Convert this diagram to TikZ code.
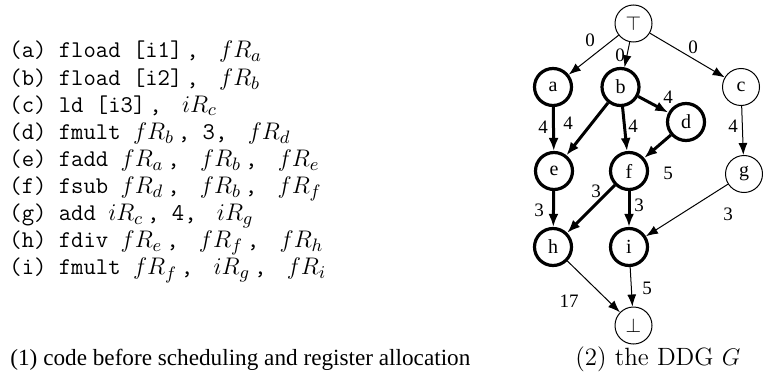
\documentclass[tikz,border=0pt]{standalone}
\usepackage{fontspec}
\newfontfamily\tms{Liberation Serif}
\usetikzlibrary{arrows.meta}
\newcommand\mo[1]{{\fontsize{12.5}{13}\selectfont$#1$}}
\newcommand\op[1]{\hspace{4pt}\mo{#1}}
\newcommand\cm{\kern2pt,}
\begin{document}
\begin{tikzpicture}[x=0.5pt,y=-0.5pt,
  nd/.style={circle,draw,line width=0.5pt,minimum size=18.5pt,inner sep=0pt,font=\tms\fontsize{10}{12}\selectfont},
  bnd/.style={nd,line width=1.6pt},
  ed/.style={-{Latex[length=6pt,width=4.5pt]},line width=0.5pt},
  bed/.style={-{Latex[length=6.5pt,width=5pt]},line width=1.5pt},
  lb/.style={font=\tms\fontsize{9.5}{11}\selectfont,inner sep=0pt},
  code/.style={anchor=base west,inner sep=0pt,font=\ttfamily\fontsize{12}{13}\selectfont}]
\useasboundingbox (0,0) rectangle (763,390);
% code
\node[code] (l1) at (9,58) {(a) fload [i1]\cm{} \op{fR_a}};
\node[code] (l2) at (9,85.1) {(b) fload [i2]\cm{} \op{fR_b}};
\node[code] (l3) at (9,112.2) {(c) ld [i3]\cm{} \op{iR_c}};
\node[code] (l4) at (9,139.3) {(d) fmult \mo{fR_b}\cm{} 3, \op{fR_d}};
\node[code] (l5) at (9,166.4) {(e) fadd \mo{fR_a}\cm{} \op{fR_b}\cm{} \op{fR_e}};
\node[code] (l6) at (9,193.5) {(f) fsub \mo{fR_d}\cm{} \op{fR_b}\cm{} \op{fR_f}};
\node[code] (l7) at (9,220.6) {(g) add \mo{iR_c}\cm{} 4, \op{iR_g}};
\node[code] (l8) at (9,247.7) {(h) fdiv \mo{fR_e}\cm{} \op{fR_f}\cm{} \op{fR_h}};
\node[code] (l9) at (9,274.8) {(i) fmult \mo{fR_f}\cm{} \op{iR_g}\cm{} \op{fR_i}};
% captions
\node[anchor=base west,inner sep=0pt,font=\tms\fontsize{11.6}{13}\selectfont] (cap1) at (10,365) {(1) code before scheduling and register allocation};
\node[anchor=base west,inner sep=0pt,font=\fontsize{12.5}{14}\selectfont] (cap2) at (575,365) {(2) the DDG $G$};
% nodes
\node[nd] (top) at (633.5,23.5) {$\top$};
\node[bnd] (a) at (553,87) {a};
\node[bnd] (b) at (620.5,87) {b};
\node[nd] (c) at (741,87) {c};
\node[bnd] (d) at (686,122) {d};
\node[bnd] (e) at (554,171) {e};
\node[bnd] (f) at (629,171) {f};
\node[nd] (g) at (744,174) {g};
\node[bnd] (h) at (553,247) {h};
\node[bnd] (i) at (629,247) {i};
\node[nd] (bot) at (633.5,325.5) {$\bot$};
% edges
\draw[ed] (top) -- (a);
\draw[ed] (top) -- (b);
\draw[ed] (top) -- (c);
\draw[bed] (a) -- (e);
\draw[bed] (b) -- (e);
\draw[bed] (b) -- (f);
\draw[bed] (b) -- (d);
\draw[ed] (c) -- (g);
\draw[bed] (d) -- (f);
\draw[bed] (e) -- (h);
\draw[bed] (f) -- (h);
\draw[bed] (f) -- (i);
\draw[ed] (g) -- (i);
\draw[ed] (h) -- (bot);
\draw[ed] (i) -- (bot);
% labels
\node[lb] (la) at (590,40) {0};
\node[lb] (lb0) at (620,55) {0};
\node[lb] (lc) at (693,47) {0};
\node[lb] (lae) at (543,127) {4};
\node[lb] (lbe) at (568,123) {4};
\node[lb] (lbf) at (633,126) {4};
\node[lb] (lbd) at (668,97) {4};
\node[lb] (lcg) at (733,126) {4};
\node[lb] (ldf) at (668,173) {5};
\node[lb] (leh) at (539,210) {3};
\node[lb] (lfh) at (596,191) {3};
\node[lb] (lfi) at (639,205) {3};
\node[lb] (lgi) at (728,214) {3};
\node[lb] (lhb) at (569,301) {17};
\node[lb] (lib) at (647,288) {5};
\end{tikzpicture}
\end{document}
